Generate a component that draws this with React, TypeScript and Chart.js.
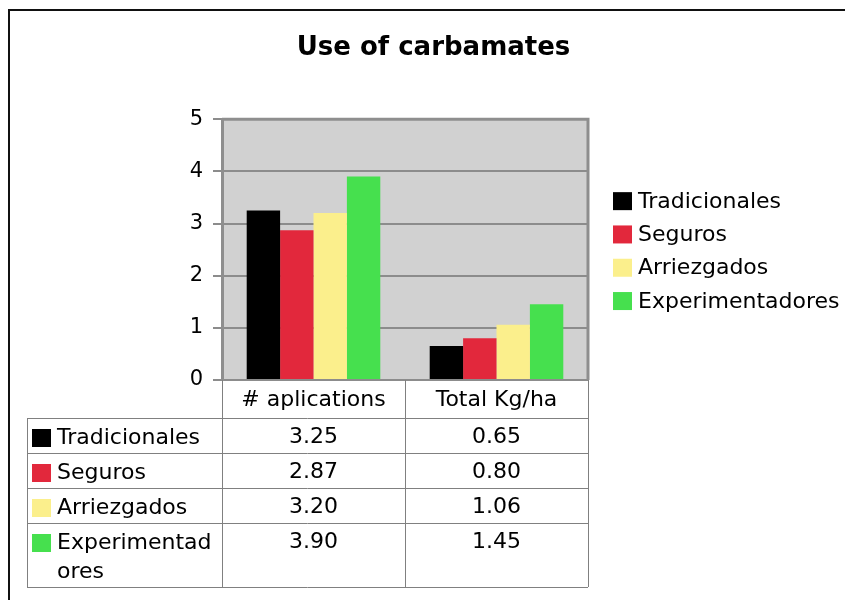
import React, { useEffect, useRef } from "react";
import { Chart, registerables } from "chart.js";

Chart.register(...registerables);

const chartTitle = "Use of carbamates";
const categories = ["# aplications", "Total Kg/ha"];
const seriesNames = ["Tradicionales", "Seguros", "Arriezgados", "Experimentadores"];
const tradicionales = [3.25, 0.65];
const seguros = [2.87, 0.8];
const arriezgados = [3.2, 1.06];
const experimentadores = [3.9, 1.45];
const seriesColors = ["#000000", "#e2283c", "#fbef8c", "#46e04e"];
const yTicks = [0, 1, 2, 3, 4, 5];

const seriesValues = [tradicionales, seguros, arriezgados, experimentadores];

const FONT = '"DejaVu Sans", Verdana, sans-serif';

function wrapText(ctx: CanvasRenderingContext2D, text: string, maxWidth: number): string[] {
  const lines: string[] = [];
  let cur = "";
  for (const ch of text) {
    if (cur && ctx.measureText(cur + ch).width > maxWidth) {
      lines.push(cur);
      cur = ch;
    } else {
      cur += ch;
    }
  }
  if (cur) lines.push(cur);
  return lines;
}

const extrasPlugin = {
  id: "excelExtras",
  beforeDraw(chart: any) {
    const { ctx, chartArea: a, width, height } = chart;
    ctx.save();
    ctx.fillStyle = "#ffffff";
    ctx.fillRect(0, 0, width, height);
    ctx.fillStyle = "#d1d1d1";
    ctx.fillRect(a.left, a.top, a.right - a.left, a.bottom - a.top);
    ctx.restore();
  },
  afterDraw(chart: any) {
    const { ctx, chartArea: a } = chart;
    const xs = chart.scales.x;
    ctx.save();

    // plot frame (right + top)
    ctx.strokeStyle = "#8e8e8e";
    ctx.lineWidth = 3;
    ctx.beginPath();
    ctx.moveTo(a.left, a.top);
    ctx.lineTo(a.right, a.top);
    ctx.lineTo(a.right, a.bottom);
    ctx.stroke();

    // data table
    const c0 = xs.getPixelForValue(0);
    const c1 = xs.getPixelForValue(1);
    const colCenters = [c0, c1];
    const colBounds = [a.left, (c0 + c1) / 2, a.right];
    const tableLeft = 27;
    const headerH = 38;
    const lineH = 29;
    ctx.font = `22px ${FONT}`;
    const wrapped = seriesNames.map((n) => wrapText(ctx, n, 160));
    const rowTops: number[] = [];
    let y = a.bottom + headerH;
    wrapped.forEach((lines) => {
      rowTops.push(y);
      y += 6 + lineH * lines.length;
    });
    const tableBottom = y;

    ctx.strokeStyle = "#808080";
    ctx.lineWidth = 1;
    ctx.beginPath();
    [...rowTops, tableBottom].forEach((ry) => {
      ctx.moveTo(tableLeft, Math.round(ry) + 0.5);
      ctx.lineTo(a.right, Math.round(ry) + 0.5);
    });
    ctx.moveTo(tableLeft + 0.5, rowTops[0]);
    ctx.lineTo(tableLeft + 0.5, tableBottom);
    colBounds.forEach((bx) => {
      ctx.moveTo(Math.round(bx) + 0.5, a.bottom);
      ctx.lineTo(Math.round(bx) + 0.5, tableBottom);
    });
    ctx.stroke();

    ctx.fillStyle = "#000";
    ctx.textBaseline = "middle";
    ctx.textAlign = "center";
    categories.forEach((c, i) => {
      ctx.fillText(c, colCenters[i], a.bottom + headerH / 2 + 1);
    });

    wrapped.forEach((lines, r) => {
      const top = rowTops[r];
      const firstY = top + 20;
      ctx.fillStyle = seriesColors[r];
      ctx.fillRect(32, firstY - 9, 19, 18);
      ctx.fillStyle = "#000";
      ctx.textAlign = "left";
      lines.forEach((ln, k) => ctx.fillText(ln, 57, firstY + k * lineH));
      ctx.textAlign = "center";
      seriesValues[r].forEach((v, i) => {
        ctx.fillText(v.toFixed(2), colCenters[i], firstY - 1);
      });
    });

    // legend
    const mid = (a.top + a.bottom) / 2 + 1.5;
    const gap = 33.3;
    seriesNames.forEach((n, i) => {
      const ly = mid + (i - (seriesNames.length - 1) / 2) * gap;
      ctx.fillStyle = seriesColors[i];
      ctx.fillRect(a.right + 25, ly - 9, 19, 18);
      ctx.fillStyle = "#000";
      ctx.textAlign = "left";
      ctx.fillText(n, a.right + 50, ly + 1);
    });

    // outer frame
    ctx.strokeStyle = "#111111";
    ctx.lineWidth = 2;
    ctx.beginPath();
    ctx.moveTo(9, chart.height);
    ctx.lineTo(9, 10);
    ctx.lineTo(chart.width, 10);
    ctx.stroke();

    ctx.restore();
  },
};

export default function App() {
  const ref = useRef<HTMLCanvasElement | null>(null);

  useEffect(() => {
    if (!ref.current) return;
    const chart = new Chart(ref.current, {
      type: "bar",
      data: {
        labels: categories,
        datasets: seriesNames.map((name, i) => ({
          label: name,
          data: seriesValues[i],
          backgroundColor: seriesColors[i],
          borderWidth: 0,
          categoryPercentage: 0.73,
          barPercentage: 1.0,
        })),
      },
      options: {
        animation: false,
        responsive: false,
        layout: { padding: { left: 22, right: 0, top: 0, bottom: 220 } },
        plugins: {
          legend: { display: false },
          tooltip: { enabled: false },
          title: {
            display: true,
            text: chartTitle,
            color: "#000",
            font: { family: FONT, size: 26, weight: "bold" },
            padding: { top: 33, bottom: 55 },
          },
        },
        scales: {
          x: { display: false, offset: true },
          y: {
            min: 0,
            max: 5,
            afterBuildTicks: (s: any) => {
              s.ticks = yTicks.map((v) => ({ value: v }));
            },
            afterFit: (s: any) => {
              s.width = 200;
            },
            ticks: {
              color: "#000",
              font: { family: FONT, size: 21 },
              padding: 10,
            },
            grid: {
              color: "#8c8c8c",
              lineWidth: 2,
              tickLength: 9,
              tickColor: "#8c8c8c",
              tickWidth: 2,
            },
            border: { color: "#8e8e8e", width: 3 },
          },
          yRight: {
            position: "right",
            display: true,
            grid: { display: false },
            ticks: { display: false },
            border: { display: false },
            afterFit: (s: any) => {
              s.width = 257;
            },
          },
        },
      },
      plugins: [extrasPlugin],
    } as any);
    return () => chart.destroy();
  }, []);

  return (
    <div style={{ position: "absolute", left: 0, top: 0, width: 845, height: 600 }}>
      <canvas ref={ref} width={845} height={600} />
    </div>
  );
}
